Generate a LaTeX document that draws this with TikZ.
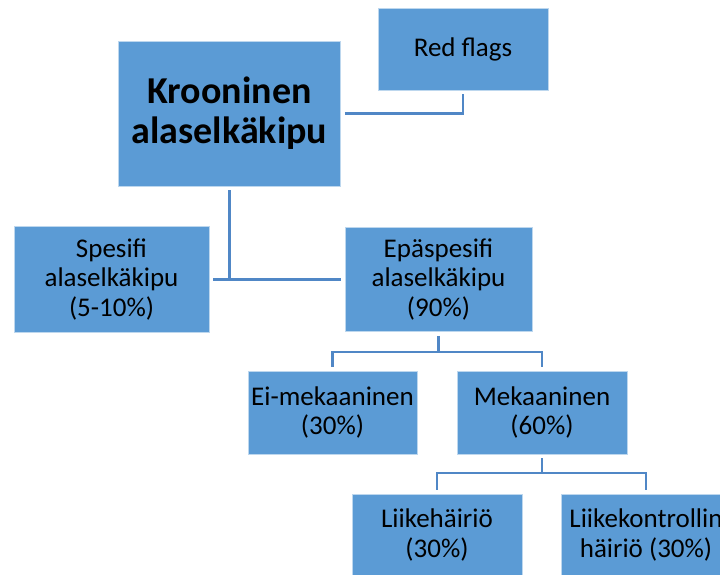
\documentclass[tikz,border=0pt]{standalone}
\usepackage{fontspec}
\setmainfont{Carlito}
\usepackage{xcolor}
\usepackage{tikz}
\usetikzlibrary{calc}

\definecolor{boxblue}{RGB}{91,155,213}
\definecolor{lineblue}{RGB}{80,135,198}

\tikzset{
    box/.style={rectangle, fill=boxblue, draw=white!60!boxblue, line width=0.8pt, inner sep=0pt, align=center, text=black, font=\fontsize{27}{29.5}\selectfont},
    conn/.style={draw=lineblue, line width=2.8pt, shorten <=4pt, shorten >=4pt}
}

\begin{document}
\begin{tikzpicture}[x=1pt, y=-1pt]
            % Fix the frame
            \clip (0,0) rectangle (720,574);
            \fill[white] (0,0) rectangle (720,574);

            % Draw the boxes
            \node[box, minimum width=170pt, minimum height=82pt] (redflags) at (463,49) {Red flags};
            \node[box, minimum width=222pt, minimum height=145pt, font=\fontsize{38}{40}\selectfont\bfseries] (main) at (229.5,113.5) {Krooninen\\alaselkäkipu};
            \node[box, minimum width=195pt, minimum height=106pt] (spesifi) at (111.5,279.5) {Spesifi\\alaselkäkipu\\(5-10\%)};
            \node[box, minimum width=187pt, minimum height=104pt] (epa) at (438.5,279.5) {Epäspesifi\\alaselkäkipu\\(90\%)};
            \node[box, minimum width=169pt, minimum height=83pt] (eimek) at (332.5,412.5) {Ei-mekaaninen\\(30\%)};
            \node[box, minimum width=170pt, minimum height=83pt] (mek) at (542,412.5) {Mekaaninen\\(60\%)};
            \node[box, minimum width=170pt, minimum height=82pt] (liike) at (437,535) {Liikehäiriö\\(30\%)};
            \node[box, minimum width=170pt, minimum height=82pt] (liikek) at (646,535) {Liikekontrollin\\häiriö (30\%)};

            % Draw the connectors
            \draw[conn] (main.east) -| (redflags.south);
            \draw[conn, shorten >=0pt] (main.south) -- (main.south |- spesifi.east);
            \draw[conn] (spesifi.east) -- (epa.west);

            \coordinate (j1) at (438.5,352);
            \draw[conn, shorten >=0pt] (epa.south) -- (j1);
            \draw[conn] (eimek.north) |- (j1) -| (mek.north);

            \coordinate (j2) at (542,473);
            \draw[conn, shorten >=0pt] (mek.south) -- (j2);
            \draw[conn] (liike.north) |- (j2) -| (liikek.north);

        \end{tikzpicture}
\end{document}
